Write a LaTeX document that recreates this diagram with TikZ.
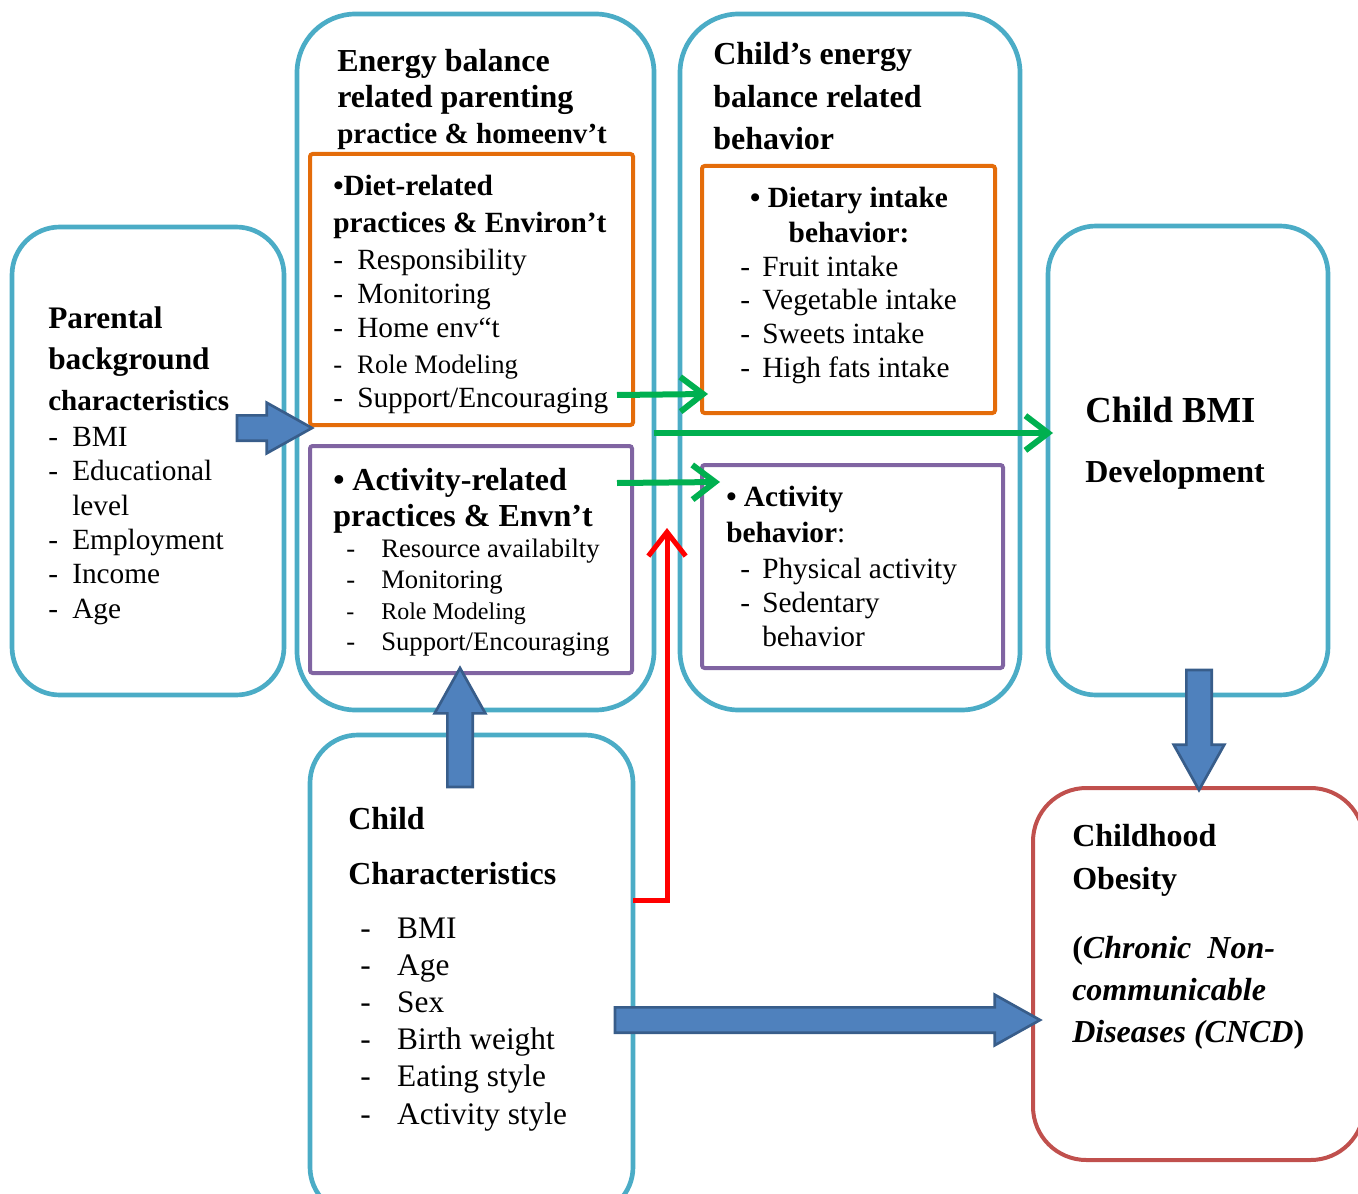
\documentclass[tikz,border=0pt]{standalone}
\usepackage{fontspec}
\setmainfont{Liberation Serif}
\usetikzlibrary{arrows.meta,calc}

\definecolor{tealline}{HTML}{4BACC6}
\definecolor{orangeline}{HTML}{E46C0A}
\definecolor{purpleline}{HTML}{8064A2}
\definecolor{redline}{HTML}{C0504D}
\definecolor{arrowfill}{HTML}{4F81BD}
\definecolor{arrowedge}{HTML}{385D8A}
\definecolor{greenline}{HTML}{00B050}

\newcommand{\fs}[2]{\fontsize{#1}{#2}\selectfont}
\newcommand{\itm}[2][18pt]{\makebox[#1][l]{-}#2}
\def\shaftw{9.5pt}
\def\headw{19pt}
\def\headl{34pt}
% fat block arrow between two named points
\newcommand{\blockarrow}[2]{%
  \filldraw[fatarrow] let \p1=(#1), \p2=(#2),
    \n1={veclen(\x2-\x1,\y2-\y1)}, \n2={(\x2-\x1)/\n1}, \n3={(\y2-\y1)/\n1} in
    ({\x1-\n3*\shaftw},{\y1+\n2*\shaftw})
    -- ({\x2-\n2*\headl-\n3*\shaftw},{\y2-\n3*\headl+\n2*\shaftw})
    -- ({\x2-\n2*\headl-\n3*\headw},{\y2-\n3*\headl+\n2*\headw})
    -- (\p2)
    -- ({\x2-\n2*\headl+\n3*\headw},{\y2-\n3*\headl-\n2*\headw})
    -- ({\x2-\n2*\headl+\n3*\shaftw},{\y2-\n3*\headl-\n2*\shaftw})
    -- ({\x1+\n3*\shaftw},{\y1-\n2*\shaftw}) -- cycle;}

\begin{document}
\begin{tikzpicture}[x=0.75pt,y=-0.75pt,
% Box styles
 tealbox/.style={draw=tealline, line width=3.5pt, rounded corners=36pt, inner sep=0pt},
 orangebox/.style={draw=orangeline, line width=3pt, rounded corners=2pt, inner sep=0pt},
 purplebox/.style={draw=purpleline, line width=3pt, rounded corners=2pt, inner sep=0pt},
 redbox/.style={draw=redline, line width=3pt, rounded corners=40pt, inner sep=0pt},
% Text styles (placed at the baseline of the last line)
 head/.style={align=left, anchor=base west, inner sep=0pt},
% Arrow styles
 fatarrow/.style={fill=arrowfill, draw=arrowedge, line width=2pt},
 greenarrow/.style={draw=greenline, line width=4.5pt, -{Straight Barb[length=17pt,width=26pt]}},
 redarrow/.style={draw=red, line width=3.75pt, -{Straight Barb[length=18pt,width=28pt]}}
]
\useasboundingbox (0,0) rectangle (1358,1194);
% Boxes
\node[tealbox, minimum width=204pt, minimum height=351pt] (parent) at (148,461) {};
\node[tealbox, rounded corners=44pt, minimum width=267.75pt, minimum height=522pt] (energy) at (475.5,362) {};
\node[orangebox, minimum width=242.25pt, minimum height=203.25pt] (diet) at (471.5,289.5) {};
\node[purplebox, minimum width=241.5pt, minimum height=170.25pt] (actp) at (471,559.5) {};
\node[tealbox, rounded corners=44pt, minimum width=255pt, minimum height=522pt] (childeb) at (850,362) {};
\node[orangebox, minimum width=219.75pt, minimum height=185.25pt] (dietary) at (848.5,289.5) {};
\node[purplebox, minimum width=225.75pt, minimum height=152.25pt] (actb) at (852.5,566.5) {};
\node[tealbox, minimum width=210pt, minimum height=351.75pt] (bmi) at (1188,460.5) {};
\node[tealbox, minimum width=242.25pt, minimum height=360pt] (childc) at (471.5,975) {};
\node[redbox, minimum width=248.25pt, minimum height=279pt] (obesity) at (1198.5,974) {};

% Parental background
\node[head, font=\fs{23.5}{30.5}\bfseries] (parentttl) at (48,410) {Parental\\background\\\fs{21.8}{30.5}characteristics};
\node[head, font=\fs{22}{25.7}] (parentlist) at (48,618)
 {\itm{BMI}\\\itm{Educational}\\\hspace*{18pt}level\\\itm{Employment}\\\itm{Income}\\\itm{Age}};

% Parenting practices
\node[head, font=\fs{24}{27}\bfseries] (energyttl) at (337,144) {Energy balance\\related parenting\\\fs{21.8}{27}practice \& homeenv’t};
\node[head, font=\fs{22}{27.75}\bfseries] (dietttl) at (333,233) {•Diet-related\\practices \& Environ’t};
\node[head, font=\fs{22}{25.5}] (dietlist) at (333,407)
 {\itm{Responsibility}\\\itm{Monitoring}\\\itm{Home env“t}\\[1.5pt]\fs{20}{27}\itm{Role Modeling}\\\itm{Support/Encouraging}};
\node[head, font=\fs{24}{27}\bfseries] (actpttl) at (333,526) {• Activity-related\\practices \& Envn’t};
\node[head, font=\fs{20}{23.25}] (actplist) at (346,650)
 {\itm[26.25pt]{Resource availabilty}\\\itm[26.25pt]{Monitoring}\\\fs{18}{23.25}\itm[26.25pt]{Role Modeling}\\\fs{20}{23.25}\itm[26.25pt]{Support/Encouraging}};

% Child behaviour
\node[head, font=\fs{24}{32}\bfseries] (childebttl) at (713,150) {Child’s energy\\balance related\\behavior};
\node[head, anchor=base, align=center, font=\fs{22}{26.25}\bfseries] (dietaryttl) at (849,243) {• Dietary intake\\behavior:};
\node[head, font=\fs{22}{25.25}] (dietarylist) at (740,377)
 {\itm[16.5pt]{Fruit intake}\\\itm[16.5pt]{Vegetable intake}\\\itm[16.5pt]{Sweets intake}\\\itm[16.5pt]{High fats intake}};
\node[head, font=\fs{22}{27}\bfseries] (actbttl) at (726,542) {• Activity\\behavior{\mdseries :}};
\node[head, font=\fs{22}{25.5}] (actblist) at (740,646)
 {\itm[16.5pt]{Physical activity}\\\itm[16.5pt]{Sedentary}\\\hspace*{16.5pt}behavior};

% Child BMI
\node[head, font=\fs{27.5}{33}\bfseries] (bmittl) at (1085,422) {Child BMI};
\node[head, font=\fs{24}{28}\bfseries] (bmidev) at (1085,482) {Development};

% Child characteristics
\node[head, font=\fs{24}{41.25}\bfseries] (childcttl) at (348,884) {Child\\Characteristics};
\node[head, font=\fs{23.5}{27.9}] (childclist) at (360,1124)
 {\itm[27.75pt]{BMI}\\\itm[27.75pt]{Age}\\\itm[27.75pt]{Sex}\\\itm[27.75pt]{Birth weight}\\\itm[27.75pt]{Eating style}\\\itm[27.75pt]{Activity style}};

% Childhood obesity
\node[head, font=\fs{24}{32.25}\bfseries] (obesityttl) at (1072,889) {Childhood\\Obesity};
\node[head, font=\fs{24}{31.5}\bfseries] (cncd) at (1072,1042)
 {(\textit{Chronic\ \ Non-}\\\textit{communicable}\\\textit{Diseases (CNCD})};

% Connector end points
\coordinate (pa-s) at (237,428);
\coordinate (pa-e) at (312,428);
\coordinate (cc-s) at (460,787);
\coordinate (cc-e) at (460,668);
\coordinate (bm-s) at (1199,670);
\coordinate (bm-e) at (1199,790);
\coordinate (ob-s) at (615,1020);
\coordinate (ob-e) at (1040,1020);
\coordinate (g1-s) at (617,395);
\coordinate (g1-e) at (708,394);
\coordinate (g2-s) at (654,433);
\coordinate (g2-e) at (1053,433);
\coordinate (g3-s) at (617,483);
\coordinate (g3-e) at (720,482);
\coordinate (r-s) at (633,900);
\coordinate (r-e) at (667,528);

% Arrows
\blockarrow{pa-s}{pa-e}
\blockarrow{cc-s}{cc-e}
\blockarrow{bm-s}{bm-e}
\blockarrow{ob-s}{ob-e}
\draw[greenarrow] (g1-s) -- (g1-e);
\draw[greenarrow] (g2-s) -- (g2-e);
\draw[greenarrow] (g3-s) -- (g3-e);
\draw[redarrow] (r-s) -| (r-e);
\end{tikzpicture}
\end{document}
